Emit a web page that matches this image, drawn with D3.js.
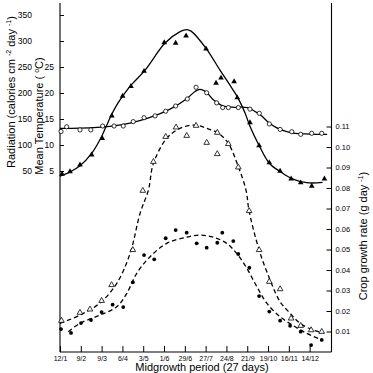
<!DOCTYPE html>
<html><head><meta charset="utf-8">
<script src="https://cdn.jsdelivr.net/npm/d3@7"></script>
<style>
html,body{margin:0;padding:0;background:#fff;}
svg{display:block;font-family:"Liberation Sans",Arial,Helvetica,sans-serif;}
</style>
</head><body>
<svg id="chart" width="373" height="373"></svg>
<script>
// ---- data (x in midgrowth-period tick units, 0 = 12/1) ----
const periodLabels = ["12/1","9/2","9/3","6/4","3/5","1/6","29/6","27/7","24/8","21/9","19/10","16/11","14/12"];
const radiationTicks = [50,100,150,200,250,300,350];
const temperatureTicks = [5,10,15,20,25];
const cgrTicks = [0.01,0.02,0.03,0.04,0.05,0.06,0.07,0.08,0.09,0.10,0.11];

const radiationObs = [[0.1,44],[0.48,49],[0.96,62],[1.52,81],[2.03,113],[2.49,156],[3.01,194],[3.41,213],[4.04,242],[5.01,297],[5.56,296],[6.06,310],[7.02,285],[7.5,219],[7.74,229],[8.37,222],[8.52,191],[9.13,143],[9.57,99],[10.06,66],[10.58,50],[11.11,35],[11.57,27.5],[12.1,21],[12.71,35]];
const radiationFit = [[0,40],[0.48,48],[0.96,60],[1.54,85],[1.92,110],[2.21,135],[2.5,160],[2.79,181],[3.08,198],[3.46,217],[4.09,244],[5.05,296],[5.77,318],[6.09,322],[6.3,319],[7.02,286],[7.69,244],[8.17,215],[8.52,193],[8.89,162],[9.13,136],[9.57,99],[10.06,65],[10.58,49],[11.11,36],[11.86,27.5],[12.62,28]];

const temperatureObs = [[0.05,12.6],[0.32,13.5],[0.96,12.9],[1.48,12.9],[2.05,13.65],[2.6,13.65],[3.04,13.65],[3.52,14.5],[4.04,15.25],[4.57,15.6],[5.08,16.5],[5.56,17.5],[6.12,18.85],[6.54,21.1],[7.05,20.05],[7.53,18.1],[7.82,17.2],[8.09,17.2],[8.57,17.2],[9.13,16.9],[9.58,16.1],[10.06,14.05],[10.58,13.0],[11.14,12.55],[11.57,12.05],[12.1,12.25],[12.58,12.25]];
const temperatureFit = [[0,13.2],[0.96,13.25],[2.4,13.6],[3.37,14.2],[4.33,15.3],[5.29,16.9],[6.06,18.8],[6.49,20.3],[6.73,20.7],[7.05,20.1],[7.37,18.7],[7.85,17.5],[8.4,17.25],[9.0,17.2],[9.62,15.8],[10.1,14.1],[10.58,13.0],[11.2,12.3],[12.02,12.1],[12.84,12.05]];

const cgrOpenObs = [[0.07,0.0153],[0.96,0.0192],[1.44,0.0208],[2.0,0.025],[2.48,0.0327],[3.5,0.0498],[3.98,0.0787],[4.49,0.0928],[5.08,0.105],[5.58,0.1096],[6.09,0.1055],[6.54,0.1104],[7.05,0.1021],[7.56,0.107],[7.56,0.0966],[8.09,0.1015],[8.57,0.0901],[9.09,0.0688],[9.57,0.0498],[10.06,0.0343],[10.58,0.0307],[11.11,0.0164],[11.57,0.0128],[12.07,0.0107],[12.58,0.0099]];
const cgrOpenFit = [[0,0.014],[0.96,0.018],[1.92,0.0239],[2.73,0.0335],[3.37,0.0481],[3.85,0.0677],[4.25,0.079],[4.49,0.092],[5.13,0.1042],[5.77,0.1091],[6.49,0.1107],[7.05,0.1091],[7.61,0.1067],[8.09,0.1018],[8.57,0.0904],[8.94,0.079],[9.09,0.0688],[9.57,0.0498],[10.1,0.0351],[10.58,0.0245],[11.06,0.0189],[11.54,0.014],[12.18,0.0107],[12.66,0.0094]];

const cgrFilledObs = [[0.05,0.0112],[0.53,0.0093],[1.01,0.0141],[1.49,0.0156],[2.0,0.0195],[2.53,0.0231],[3.04,0.0219],[3.5,0.034],[4.04,0.0473],[4.53,0.0452],[5.08,0.0555],[5.56,0.0595],[6.09,0.0582],[6.57,0.053],[7.05,0.0509],[7.56,0.0533],[7.8,0.0582],[8.33,0.0541],[8.57,0.0478],[9.1,0.0411],[9.57,0.0273],[10.06,0.0197],[10.58,0.0153],[11.06,0.0128],[11.57,0.0099],[12.07,0.0034],[12.58,0.0059]];
const cgrFilledFit = [[0.4,0.0099],[0.96,0.014],[1.92,0.018],[2.73,0.0221],[3.21,0.0286],[3.69,0.0384],[4.33,0.0465],[5.13,0.053],[6.09,0.056],[6.73,0.057],[7.37,0.056],[8.01,0.053],[8.49,0.0481],[8.98,0.0408],[9.46,0.0319],[9.94,0.0238],[10.58,0.0172],[11.22,0.0128],[11.86,0.0091],[12.58,0.0059]];

// ---- scales ----
const svg = d3.select("#chart");
const x = d3.scaleLinear().domain([0, 13.05]).range([60, 331.5]);
const yRad = d3.scaleLinear().domain([0, 350]).range([197, 15]);
const yTemp = d3.scaleLinear().domain([0, 35]).range([197, 15]);
const yCgr = d3.scaleLinear().domain([0, 0.11]).range([352, 126.5]);

// ---- axes ----
function styleAxis(g, fs) {
  g.select(".domain").remove();
  g.selectAll(".tick line").attr("stroke", "#000").attr("stroke-width", 1);
  g.selectAll(".tick text").attr("fill", "#000").style("font-size", fs + "px")
    .style("font-family", '"Liberation Sans",Arial,sans-serif');
}
svg.append("g").attr("transform", "translate(60,0)")
  .call(d3.axisLeft(yRad).tickValues(radiationTicks).tickSizeInner(-4).tickSizeOuter(0).tickPadding(28))
  .call(g => styleAxis(g, 8.5));
svg.append("g").attr("transform", "translate(60,0)")
  .call(d3.axisLeft(yTemp).tickValues(temperatureTicks).tickSize(0).tickPadding(6))
  .call(g => styleAxis(g, 8.5));
svg.append("g").attr("transform", "translate(331.5,0)")
  .call(d3.axisRight(yCgr).tickValues(cgrTicks).tickSizeInner(-5).tickSizeOuter(0).tickPadding(4).tickFormat(d3.format(".2f")))
  .call(g => styleAxis(g, 7.5));
svg.append("g").attr("transform", "translate(0,352)")
  .call(d3.axisBottom(x).tickValues(d3.range(periodLabels.length)).tickFormat(i => periodLabels[i])
        .tickSizeInner(-6).tickSizeOuter(0).tickPadding(4.5))
  .call(g => styleAxis(g, 7));

// frame lines (left, bottom, right)
const frame = svg.append("g").attr("stroke", "#000").attr("stroke-width", 1.1).attr("fill", "none");
frame.append("line").attr("x1", 60).attr("x2", 60).attr("y1", 3).attr("y2", 352);
frame.append("line").attr("x1", 60).attr("x2", 331.5).attr("y1", 352).attr("y2", 352);
frame.append("line").attr("x1", 331.5).attr("x2", 331.5).attr("y1", 3).attr("y2", 352);

// ---- curves ----
function drawCurve(data, yS, dashed) {
  const gen = d3.line().x(d => x(d[0])).y(d => yS(d[1])).curve(d3.curveCatmullRom.alpha(0.5));
  svg.append("path").attr("d", gen(data)).attr("fill", "none").attr("stroke", "#000")
    .attr("stroke-width", 1.3).attr("stroke-dasharray", dashed ? "4.5,3" : null);
}
drawCurve(radiationFit, yRad, false);
drawCurve(temperatureFit, yTemp, false);
drawCurve(cgrOpenFit, yCgr, true);
drawCurve(cgrFilledFit, yCgr, true);

// ---- markers ----
const tri = d3.symbol().type(d3.symbolTriangle).size(14);
svg.append("g").selectAll("path").data(radiationObs).join("path")
  .attr("transform", d => `translate(${x(d[0])},${yRad(d[1])})`).attr("d", tri).attr("fill", "#000");
svg.append("g").selectAll("path").data(cgrOpenObs).join("path")
  .attr("transform", d => `translate(${x(d[0])},${yCgr(d[1])})`).attr("d", tri)
  .attr("fill", "#fff").attr("stroke", "#000").attr("stroke-width", 0.8);
svg.append("g").selectAll("circle").data(temperatureObs).join("circle")
  .attr("cx", d => x(d[0])).attr("cy", d => yTemp(d[1])).attr("r", 2.1)
  .attr("fill", "#fff").attr("stroke", "#000").attr("stroke-width", 0.8);
svg.append("g").selectAll("circle").data(cgrFilledObs).join("circle")
  .attr("cx", d => x(d[0])).attr("cy", d => yCgr(d[1])).attr("r", 1.9).attr("fill", "#000");

// ---- axis titles ----
function sup(t, s) { t.append("tspan").attr("dy", -4).style("font-size", "7px").text(s); }
const radT = svg.append("text").attr("transform", "translate(15,92) rotate(-90)")
  .attr("text-anchor", "middle").style("font-size", "11px").attr("fill", "#000");
radT.append("tspan").text("Radiation (calories cm ");
sup(radT, "-2");
radT.append("tspan").attr("dy", 4).text(" day ");
sup(radT, "-1");
radT.append("tspan").attr("dy", 4).text(")");

const tmpT = svg.append("text").attr("transform", "translate(43,116) rotate(-90)")
  .attr("text-anchor", "middle").style("font-size", "11px").attr("fill", "#000");
tmpT.append("tspan").text("Mean Temperature ( ");
sup(tmpT, "o");
tmpT.append("tspan").attr("dy", 4).text("C)");

const cgrT = svg.append("text").attr("transform", "translate(367,236) rotate(-90)")
  .attr("text-anchor", "middle").style("font-size", "11px").attr("fill", "#000");
cgrT.append("tspan").text("Crop growth rate (g day ");
sup(cgrT, "-1");
cgrT.append("tspan").attr("dy", 4).text(")");

svg.append("text").attr("x", 202).attr("y", 371).attr("text-anchor", "middle")
  .style("font-size", "11px").attr("fill", "#000").text("Midgrowth period (27 days)");
</script>
</body></html>
